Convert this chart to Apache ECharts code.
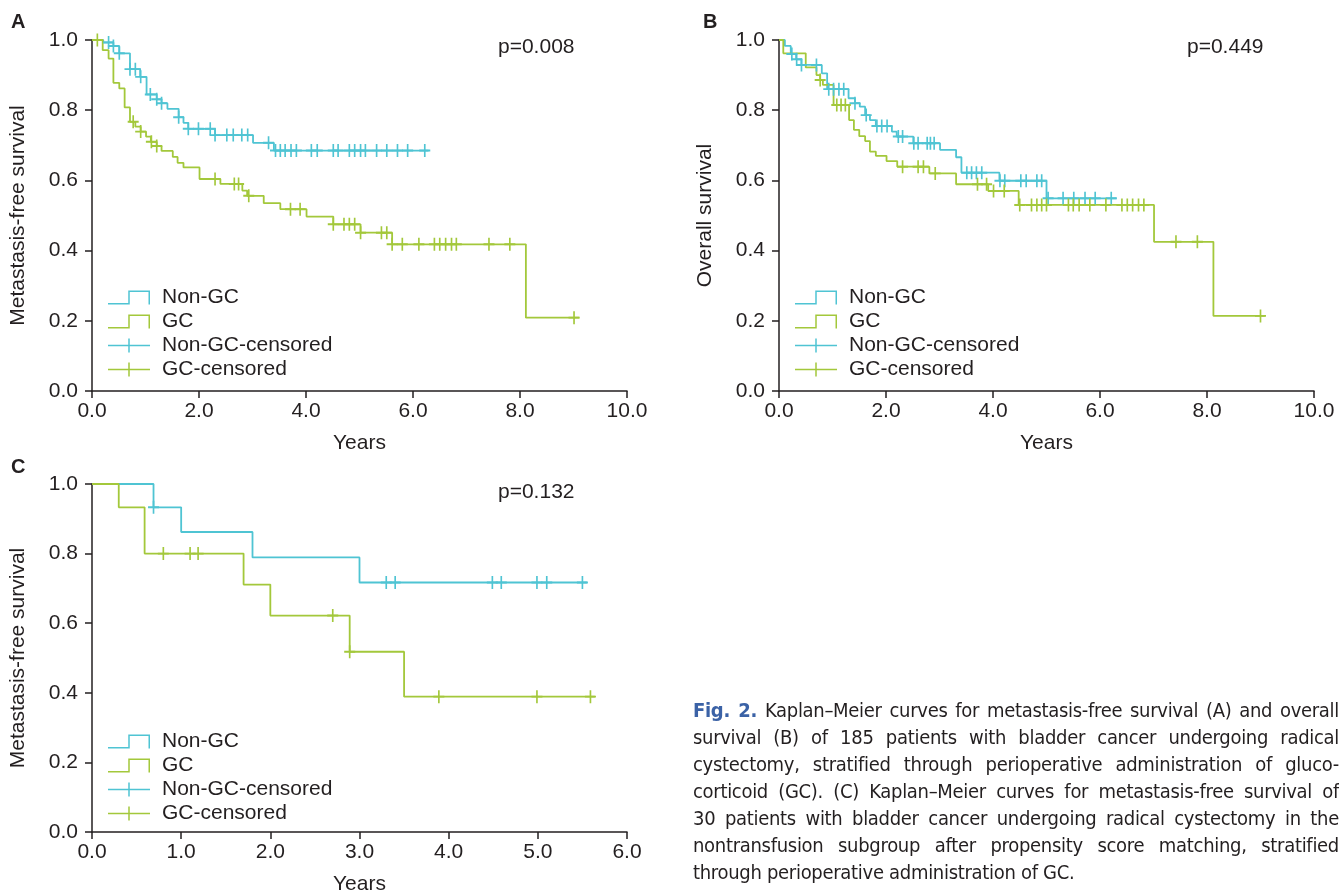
<!DOCTYPE html>
<html>
<head>
<meta charset="utf-8">
<script src="https://cdn.jsdelivr.net/npm/echarts@6/dist/echarts.min.js"></script>
<style>
  body { margin: 0; background: #fff; }
  #chart { width: 1339px; height: 896px; }
  #caption {
    position: absolute; left: 693px; top: 697px; width: 646px;
    font: 20px/27px "Liberation Sans Narrow", "DejaVu Sans Condensed", sans-serif;
    letter-spacing: -0.3px;
    color: #231f20;
  }
  #caption div { text-align: justify; text-align-last: justify; }
  #caption div.last { text-align-last: left; }
  #caption b { color: #3b62a6; font-weight: bold; }
</style>
</head>
<body>
<div id="chart"></div>
<div id="caption">
  <div><b>Fig. 2.</b> Kaplan–Meier curves for metastasis-free survival (A) and overall</div>
  <div>survival (B) of 185 patients with bladder cancer undergoing radical</div>
  <div>cystectomy, stratified through perioperative administration of gluco-</div>
  <div>corticoid (GC). (C) Kaplan–Meier curves for metastasis-free survival of</div>
  <div>30 patients with bladder cancer undergoing radical cystectomy in the</div>
  <div>nontransfusion subgroup after propensity score matching, stratified</div>
  <div class="last">through perioperative administration of GC.</div>
</div>
<script>
// panel A: metastasis-free survival, all patients
const aNonGcTime = [0, 0.21, 0.40, 0.51, 0.71, 0.90, 1.02, 1.21, 1.30, 1.41, 1.62, 1.71, 1.80, 2.30, 3.01, 3.40]
const aNonGcSurv = [1.0, 0.993, 0.983, 0.962, 0.917, 0.895, 0.845, 0.831, 0.82, 0.804, 0.78, 0.764, 0.747, 0.729, 0.707, 0.685]
const aNonGcEnd = 6.29
const aNonGcCensor = [0.31, 0.40, 0.51, 0.71, 0.81, 0.91, 1.09, 1.21, 1.30, 1.62, 1.80, 1.99, 2.21, 2.30, 2.52, 2.64, 2.80, 2.91,
  3.30, 3.43, 3.52, 3.61, 3.72, 3.82, 4.10, 4.21, 4.51, 4.60, 4.81, 4.91, 5.02, 5.11, 5.32, 5.51, 5.71, 5.90, 6.22]

const aGcTime = [0, 0.20, 0.31, 0.40, 0.51, 0.61, 0.71, 0.81, 0.91, 1.01, 1.10, 1.21, 1.30, 1.51, 1.60, 1.71, 2.01, 2.40,
  2.81, 2.90, 3.21, 3.52, 4.01, 4.51, 5.02, 5.61, 8.11]
const aGcSurv = [1.0, 0.971, 0.947, 0.878, 0.862, 0.808, 0.767, 0.753, 0.739, 0.725, 0.71, 0.698, 0.684, 0.667, 0.65, 0.637, 0.604, 0.59,
  0.571, 0.556, 0.535, 0.518, 0.497, 0.475, 0.451, 0.418, 0.209]
const aGcEnd = 9.11
const aGcCensor = [0.10, 0.77, 0.91, 1.11, 1.21, 2.30, 2.66, 2.74, 2.93, 3.71, 3.89, 4.51, 4.71, 4.81, 4.91, 5.02, 5.41, 5.51,
  5.61, 5.80, 6.11, 6.40, 6.50, 6.61, 6.72, 6.81, 7.42, 7.81, 9.01]

// panel B: overall survival, all patients
const bNonGcTime = [0, 0.11, 0.22, 0.32, 0.42, 0.80, 0.90, 1.30, 1.42, 1.51, 1.61, 1.70, 1.81, 2.11, 2.20, 2.51, 3.01, 3.31, 3.41, 4.12, 5.00]
const bNonGcSurv = [1.0, 0.983, 0.96, 0.945, 0.929, 0.905, 0.86, 0.834, 0.82, 0.81, 0.786, 0.772, 0.755, 0.739, 0.725, 0.706, 0.687, 0.666, 0.622, 0.599, 0.549]
const bNonGcEnd = 6.31
const bNonGcCensor = [0.24, 0.33, 0.42, 0.70, 0.93, 1.02, 1.12, 1.21, 1.42, 1.63, 1.83, 1.92, 2.02, 2.23, 2.31, 2.52, 2.60, 2.77, 2.83, 2.90,
  3.51, 3.60, 3.69, 3.79, 4.13, 4.22, 4.52, 4.62, 4.82, 4.91, 5.03, 5.31, 5.51, 5.72, 5.91, 6.21]

const bGcTime = [0, 0.08, 0.50, 0.70, 0.77, 0.82, 1.02, 1.31, 1.40, 1.50, 1.61, 1.70, 1.81, 2.01, 2.21, 2.81, 3.31, 3.91, 4.48, 7.01, 8.12]
const bGcSurv = [1.0, 0.962, 0.922, 0.9, 0.886, 0.872, 0.815, 0.772, 0.744, 0.726, 0.712, 0.682, 0.67, 0.655, 0.639, 0.62, 0.589, 0.57, 0.53, 0.425, 0.214]
const bGcEnd = 9.08
const bGcCensor = [0.77, 1.08, 1.16, 1.24, 2.31, 2.60, 2.70, 2.92, 3.71, 3.88, 4.01, 4.21, 4.50, 4.72, 4.82, 4.91, 5.00, 5.41, 5.50, 5.61,
  5.81, 6.11, 6.41, 6.51, 6.61, 6.72, 6.82, 7.42, 7.82, 9.00]

// panel C: metastasis-free survival, matched nontransfusion subgroup
const cNonGcTime = [0, 0.69, 1.00, 1.80, 3.00]
const cNonGcSurv = [1.0, 0.933, 0.862, 0.789, 0.717]
const cNonGcEnd = 5.55
const cNonGcCensor = [0.69, 3.30, 3.40, 4.49, 4.59, 4.99, 5.10, 5.50]

const cGcTime = [0, 0.30, 0.59, 1.70, 2.00, 2.89, 3.50]
const cGcSurv = [1.0, 0.933, 0.8, 0.711, 0.622, 0.518, 0.389]
const cGcEnd = 5.64
const cGcCensor = [0.80, 1.10, 1.19, 2.70, 2.89, 3.89, 4.99, 5.59]

const pValues = ['p=0.008', 'p=0.449', 'p=0.132']
const panelLetters = ['A', 'B', 'C']
const yNames = ['Metastasis-free survival', 'Overall survival', 'Metastasis-free survival']
const xMax = [10, 10, 6]
const xInterval = [2, 2, 1]

const cyan = '#4fc4d3'
const green = '#a3c83b'
const ink = '#231f20'
const font = '"Liberation Sans", Arial, sans-serif'

const crossSymbol = 'path://M8.5,0H11.5V20H8.5Z M0,8.5H20V11.5H0Z'
const stepIcon = 'path://M0,12.5H20.25V0H42V14H40.5V1.5H21.75V14H0Z'
const censorIcon = 'path://M0,6.25H42V7.75H0Z M20.25,0H21.75V14H20.25Z'

function stepLine(times, surv, end) {
  const pts = times.map((t, i) => [t, surv[i]])
  pts.push([end, surv[surv.length - 1]])
  return pts
}

function censorPoints(censor, times, surv) {
  return censor.map((t) => {
    let s = surv[0]
    times.forEach((tt, i) => { if (tt <= t + 1e-9) s = surv[i] })
    return [t, s]
  })
}

const panels = [
  { nonGc: [aNonGcTime, aNonGcSurv, aNonGcEnd, aNonGcCensor], gc: [aGcTime, aGcSurv, aGcEnd, aGcCensor] },
  { nonGc: [bNonGcTime, bNonGcSurv, bNonGcEnd, bNonGcCensor], gc: [bGcTime, bGcSurv, bGcEnd, bGcCensor] },
  { nonGc: [cNonGcTime, cNonGcSurv, cNonGcEnd, cNonGcCensor], gc: [cGcTime, cGcSurv, cGcEnd, cGcCensor] },
]

const grids = [
  { left: 92, top: 40, width: 535, height: 351 },
  { left: 779, top: 40, width: 535, height: 351 },
  { left: 92, top: 484, width: 535, height: 351 },
]

const textBase = { fontFamily: font, color: ink, fontSize: 21 }

const series = []
panels.forEach((p, i) => {
  const groups = [['Non-GC', cyan, p.nonGc], ['GC', green, p.gc]]
  groups.forEach(([name, color, d]) => {
    series.push({
      name,
      type: 'line',
      step: 'end',
      xAxisIndex: i,
      yAxisIndex: i,
      showSymbol: false,
      silent: true,
      data: stepLine(d[0], d[1], d[2]),
      lineStyle: { color, width: 1.8 },
      itemStyle: { color },
      z: 2,
    })
  })
  groups.forEach(([name, color, d]) => {
    series.push({
      name: name + '-censored',
      type: 'scatter',
      xAxisIndex: i,
      yAxisIndex: i,
      symbol: crossSymbol,
      symbolSize: [11, 13],
      silent: true,
      data: censorPoints(d[3], d[0], d[1]),
      itemStyle: { color, opacity: 1 },
      z: 3,
    })
  })
})

const legendItems = [
  { name: 'Non-GC', icon: stepIcon },
  { name: 'GC', icon: stepIcon },
  { name: 'Non-GC-censored', icon: censorIcon },
  { name: 'GC-censored', icon: censorIcon },
]

const option = {
  animation: false,
  backgroundColor: '#fff',
  grid: grids,
  title: [
    ...panelLetters.map((t, i) => ({
      text: t,
      left: [11, 703, 11][i],
      top: [12, 12, 457][i],
      padding: 0,
      textStyle: { ...textBase, fontSize: 20, fontWeight: 'bold' },
    })),
    ...pValues.map((t, i) => ({
      text: t,
      left: [498, 1187, 498][i],
      top: [37, 37, 482][i],
      padding: 0,
      textStyle: { ...textBase, fontWeight: 'normal' },
    })),
  ],
  legend: [0, 1, 2].map((i) => ({
    orient: 'vertical',
    left: [108, 795, 108][i],
    top: [287, 287, 731][i],
    itemWidth: 42,
    itemHeight: 14,
    itemGap: 3,
    padding: 0,
    selectedMode: false,
    textStyle: { ...textBase, lineHeight: 20, padding: [0, 0, 0, 7] },
    data: legendItems,
  })),
  xAxis: [0, 1, 2].map((i) => ({
    gridIndex: i,
    type: 'value',
    min: 0,
    max: xMax[i],
    interval: xInterval[i],
    name: 'Years',
    nameLocation: 'middle',
    nameGap: 42,
    nameTextStyle: textBase,
    axisLine: { onZero: false, lineStyle: { color: ink, width: 1.5 } },
    axisTick: { length: 7, lineStyle: { color: ink, width: 1.5 } },
    axisLabel: { ...textBase, margin: 10, showMinLabel: true, showMaxLabel: true, formatter: (v) => v.toFixed(1) },
    splitLine: { show: false },
  })),
  yAxis: [0, 1, 2].map((i) => ({
    gridIndex: i,
    type: 'value',
    min: 0,
    max: 1,
    interval: 0.2,
    name: yNames[i],
    nameLocation: 'middle',
    nameGap: 63,
    nameTextStyle: textBase,
    axisLine: { onZero: false, show: true, lineStyle: { color: ink, width: 1.5 } },
    axisTick: { show: true, length: 7, lineStyle: { color: ink, width: 1.5 } },
    axisLabel: { ...textBase, margin: 14, formatter: (v) => v.toFixed(1) },
    splitLine: { show: false },
  })),
  series,
}

const chart = echarts.init(document.getElementById('chart'))
chart.setOption(option)
window.addEventListener('resize', chart.resize)
</script>
</body>
</html>
